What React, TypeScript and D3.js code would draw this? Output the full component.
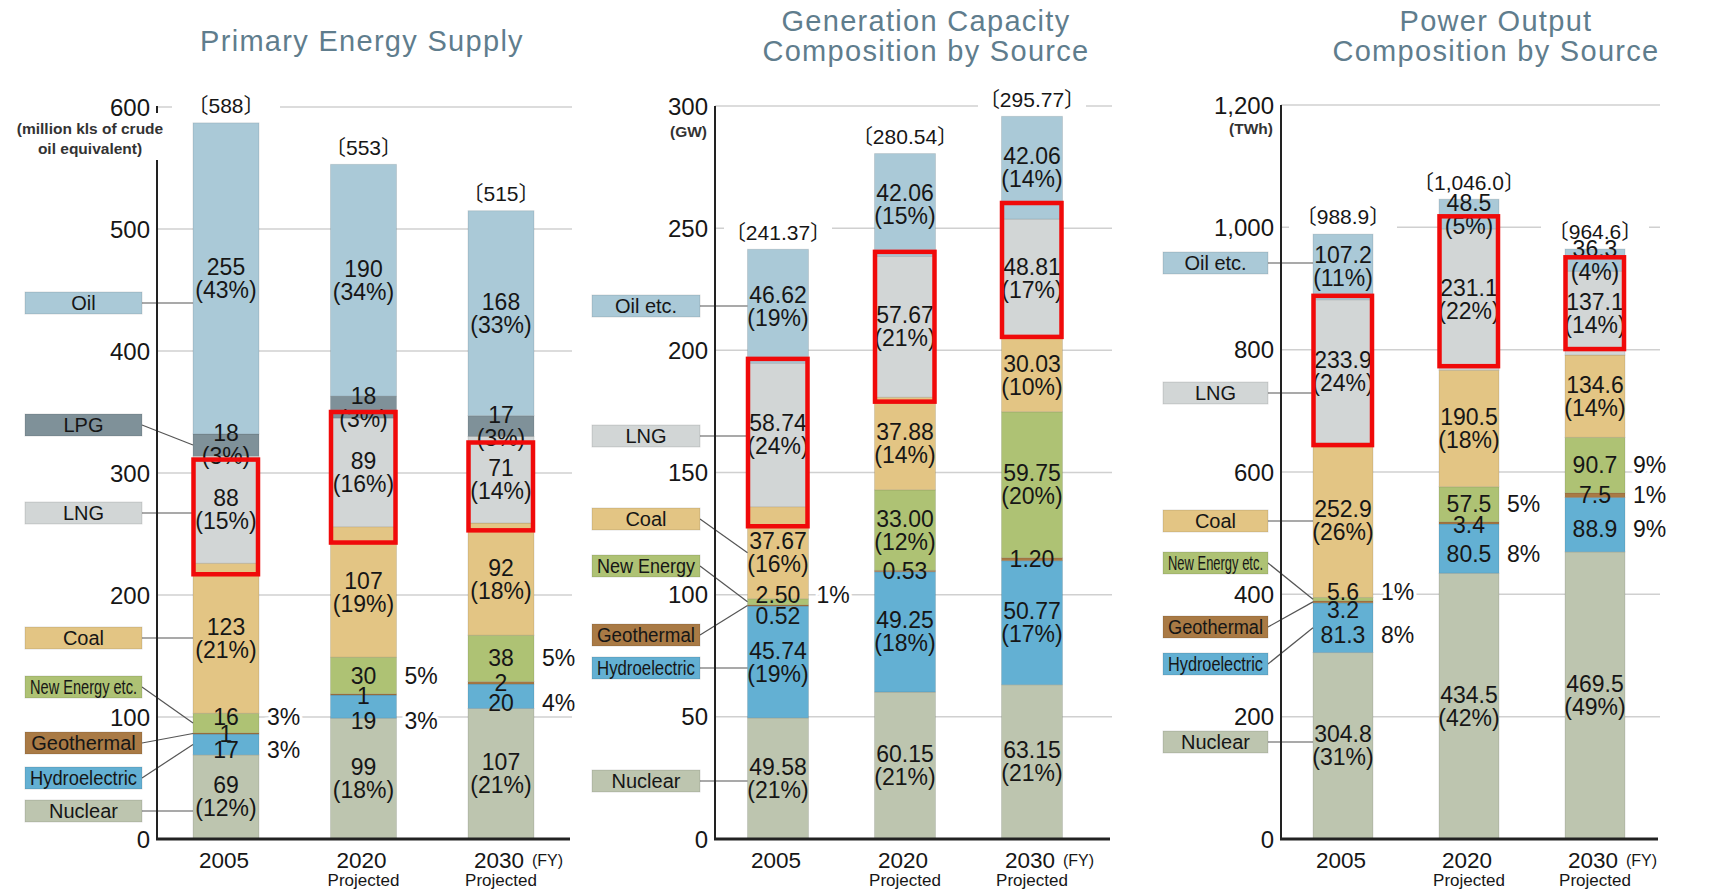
import * as d3 from "d3";

// ── Data ──────────────────────────────────────────────────────────────────────

const years = ["2005", "2020", "2030"];
const yearNotes = ["", "Projected", "Projected"];

// Primary Energy Supply (million kls of crude oil equivalent)
const supplyKeys = ["Nuclear", "Hydroelectric", "Geothermal", "New Energy", "Coal", "LNG", "LPG", "Oil"];
const supplyLegend = ["Nuclear", "Hydroelectric", "Geothermal", "New Energy etc.", "Coal", "LNG", "LPG", "Oil"];
const supply2005 = [69, 17, 1, 16, 123, 88, 18, 255];
const supply2020 = [99, 19, 1, 30, 107, 89, 18, 190];
const supply2030 = [107, 20, 2, 38, 92, 71, 17, 168];
const supplyPct2005 = [12, 3, null, 3, 21, 15, 3, 43];
const supplyPct2020 = [18, 3, null, 5, 19, 16, 3, 34];
const supplyPct2030 = [21, 4, null, 5, 18, 14, 3, 33];
const supplyModes = ["sss", "rrr", "vvv", "rrr", "sss", "sss", "sss", "sss"];
const supplyTotals = [588, 553, 515];
const supplyTicks = [0, 100, 200, 300, 400, 500, 600];
const supplyHighlight = [[217, 311], [243, 350], [253, 325]];

// Generation Capacity (GW)
const capacityKeys = ["Nuclear", "Hydroelectric", "Geothermal", "New Energy", "Coal", "LNG", "Oil"];
const capacityLegend = ["Nuclear", "Hydroelectric", "Geothermal", "New Energy", "Coal", "LNG", "Oil etc."];
const capacity2005 = [49.58, 45.74, 0.52, 2.5, 37.67, 58.74, 46.62];
const capacity2020 = [60.15, 49.25, 0.53, 33.0, 37.88, 57.67, 42.06];
const capacity2030 = [63.15, 50.77, 1.2, 59.75, 30.03, 48.81, 42.06];
const capacityPct2005 = [21, 19, null, 1, 16, 24, 19];
const capacityPct2020 = [21, 18, null, 12, 14, 21, 15];
const capacityPct2030 = [21, 17, null, 20, 10, 17, 14];
const capacityModes = ["sss", "sss", "vvv", "rss", "sss", "sss", "sss"];
const capacityTotals = [241.37, 280.54, 295.77];
const capacityTicks = [0, 50, 100, 150, 200, 250, 300];
const capacityHighlight = [[128, 196.5], [179, 240.3], [205.5, 260.3]];

// Power Output (TWh)
const outputKeys = ["Nuclear", "Hydroelectric", "Geothermal", "New Energy", "Coal", "LNG", "Oil"];
const outputLegend = ["Nuclear", "Hydroelectric", "Geothermal", "New Energy etc.", "Coal", "LNG", "Oil etc."];
const output2005 = [304.8, 81.3, 3.2, 5.6, 252.9, 233.9, 107.2];
const output2020 = [434.5, 80.5, 3.4, 57.5, 190.5, 231.1, 48.5];
const output2030 = [469.5, 88.9, 7.5, 90.7, 134.6, 137.1, 36.3];
const outputPct2005 = [31, 8, null, 1, 26, 24, 11];
const outputPct2020 = [42, 8, null, 5, 18, 22, 5];
const outputPct2030 = [49, 9, 1, 9, 14, 14, 4];
const outputModes = ["sss", "rrr", "vvr", "rrr", "sss", "sss", "sss"];
const outputTotals = [988.9, 1046.0, 964.6];
const outputTicks = [0, 200, 400, 600, 800, 1000, 1200];
const outputHighlight = [[644, 888], [773, 1018], [801, 951]];

// ── Styling ───────────────────────────────────────────────────────────────────

const FONT = '"Liberation Sans", Arial, Helvetica, sans-serif';
const BRACKET_FONT = '"Liberation Sans", "Noto Sans CJK JP", sans-serif';
const BASE_Y = 839;

const COLORS: Record<string, string> = {
  Nuclear: "#bdc5af",
  Hydroelectric: "#63b0d3",
  Geothermal: "#a97a45",
  "New Energy": "#aec274",
  Coal: "#e3c584",
  LNG: "#d2d6d6",
  LPG: "#7f9199",
  Oil: "#aac9d7",
};

interface Layout {
  axisX: number;
  axisTop?: number;
  yTop: number;
  firstCenter: number;
  step: number;
  bw: number;
  gridEnd: number;
  titleX: number;
  titleY: number[];
  legendX: [number, number];
  legendY: number[];
  unitX: number;
  unitY: number[];
  unitAnchor: "middle" | "end";
  nudge: Record<string, number>;
}

interface PanelSpec {
  title: string[];
  keys: string[];
  legend: string[];
  values: number[][];
  pcts: (number | null)[][];
  modes: string[];
  totals: number[];
  highlight: number[][];
  ticks: number[];
  fmtValue: (v: number) => string;
  fmtTotal: (v: number) => string;
  fmtTick: (v: number) => string;
  unit: string[];
  layout: Layout;
}

const panels: PanelSpec[] = [
  {
    title: ["Primary Energy Supply"],
    keys: supplyKeys,
    legend: supplyLegend,
    values: [supply2005, supply2020, supply2030],
    pcts: [supplyPct2005, supplyPct2020, supplyPct2030],
    modes: supplyModes,
    totals: supplyTotals,
    highlight: supplyHighlight,
    ticks: supplyTicks,
    fmtValue: d3.format("d"),
    fmtTotal: d3.format("d"),
    fmtTick: d3.format("d"),
    unit: ["(million kls of crude", "oil equivalent)"],
    layout: {
      axisX: 157, axisTop: 160, yTop: 107, firstCenter: 226, step: 137.5, bw: 66, gridEnd: 572,
      titleX: 362, titleY: [41],
      legendX: [25, 142], legendY: [811, 778, 743, 687, 638, 513, 425, 303],
      unitX: 90, unitY: [129, 149], unitAnchor: "middle",
      nudge: { "Hydroelectric|2005": 5, "Hydroelectric|2020": 14, "Hydroelectric|2030": 7, "New Energy|2005": -6, "Geothermal|2020": 2 },
    },
  },
  {
    title: ["Generation Capacity", "Composition by Source"],
    keys: capacityKeys,
    legend: capacityLegend,
    values: [capacity2005, capacity2020, capacity2030],
    pcts: [capacityPct2005, capacityPct2020, capacityPct2030],
    modes: capacityModes,
    totals: capacityTotals,
    highlight: capacityHighlight,
    ticks: capacityTicks,
    fmtValue: d3.format(".2f"),
    fmtTotal: d3.format(".2f"),
    fmtTick: d3.format("d"),
    unit: ["(GW)"],
    layout: {
      axisX: 715, yTop: 106, firstCenter: 778, step: 127, bw: 61, gridEnd: 1112,
      titleX: 926, titleY: [21, 51],
      legendX: [592, 700], legendY: [781, 668, 635, 566, 519, 436, 306],
      unitX: 707, unitY: [132], unitAnchor: "end",
      nudge: { "Geothermal|2005": 10, "New Energy|2005": -7 },
    },
  },
  {
    title: ["Power Output", "Composition by Source"],
    keys: outputKeys,
    legend: outputLegend,
    values: [output2005, output2020, output2030],
    pcts: [outputPct2005, outputPct2020, outputPct2030],
    modes: outputModes,
    totals: outputTotals,
    highlight: outputHighlight,
    ticks: outputTicks,
    fmtValue: d3.format(".1f"),
    fmtTotal: d3.format(",.1f"),
    fmtTick: d3.format(","),
    unit: ["(TWh)"],
    layout: {
      axisX: 1281, yTop: 105, firstCenter: 1343, step: 126, bw: 60, gridEnd: 1660,
      titleX: 1496, titleY: [21, 51],
      legendX: [1163, 1268], legendY: [742, 664, 627, 563, 521, 393, 263],
      unitX: 1273, unitY: [129], unitAnchor: "end",
      nudge: { "Geothermal|2005": 8, "New Energy|2005": -7, "Hydroelectric|2005": 7, "Hydroelectric|2020": 5, "Hydroelectric|2030": 4, "Geothermal|2020": 2 },
    },
  },
];

// text width for squeezing long legend names into their boxes
let measureCtx: CanvasRenderingContext2D | null = null;
function textWidth(s: string, size: number) {
  if (!measureCtx) measureCtx = document.createElement("canvas").getContext("2d");
  if (!measureCtx) return s.length * size * 0.55;
  measureCtx.font = `${size}px "Liberation Sans", Arial, sans-serif`;
  return measureCtx.measureText(s).width;
}

// ── Panel ─────────────────────────────────────────────────────────────────────

function Panel({ spec }: { spec: PanelSpec }) {
  const L = spec.layout;
  const yMax = spec.ticks[spec.ticks.length - 1];
  const y = d3.scaleLinear().domain([0, yMax]).range([BASE_Y, L.yTop]);

  const pi = 1 - L.bw / L.step;
  const po = (L.firstCenter - L.axisX - L.bw / 2) / L.step;
  const x = d3
    .scaleBand<string>()
    .domain(years)
    .range([L.axisX, L.axisX + L.step * (years.length - pi + 2 * po)])
    .paddingInner(pi)
    .paddingOuter(po);
  const bw = x.bandwidth();

  const rows = years.map((yr, i) => {
    const o: Record<string, number | string> = { year: yr };
    spec.keys.forEach((k, j) => (o[k] = spec.values[i][j]));
    return o;
  });
  const series = d3.stack<Record<string, any>>().keys(spec.keys)(rows);

  const labelFont = { fontFamily: FONT, fontSize: 23, fill: "#161616" };

  return (
    <g>
      {/* gridlines */}
      {spec.ticks.filter((t) => t > 0).map((t) => (
        <line key={t} x1={L.axisX} x2={L.gridEnd} y1={y(t)} y2={y(t)} stroke="#d0d0d0" strokeWidth={1.5} />
      ))}

      {/* bars */}
      {series.map((s, j) =>
        s.map((p, i) => (
          <rect
            key={`${j}-${i}`}
            x={x(years[i])}
            y={y(p[1])}
            width={bw}
            height={Math.max(0, y(p[0]) - y(p[1]))}
            fill={COLORS[spec.keys[j]]}
            stroke="rgba(0,0,0,0.1)"
            strokeWidth={1}
          />
        ))
      )}

      {/* totals */}
      {years.map((yr, i) => {
        const cx = (x(yr) ?? 0) + bw / 2;
        const top = y(d3.sum(spec.values[i]));
        return (
          <g key={yr}>
            <rect x={cx - 54} y={top - 31} width={108} height={27} fill="#fff" />
            <text x={cx} y={top - 17} dy="0.35em" textAnchor="middle" fontFamily={BRACKET_FONT} fontSize={21} fill="#161616">
              {"〔" + spec.fmtTotal(spec.totals[i]) + "〕"}
            </text>
          </g>
        );
      })}

      {/* segment labels */}
      {series.map((s, j) =>
        s.map((p, i) => {
          const key = spec.keys[j];
          const yr = years[i];
          const mode = spec.modes[j][i];
          const x0 = x(yr) ?? 0;
          const cx = x0 + bw / 2;
          const cy = (y(p[0]) + y(p[1])) / 2 + (L.nudge[`${key}|${yr}`] ?? 0);
          const val = spec.fmtValue(spec.values[i][j]);
          const pct = spec.pcts[i][j];
          if (mode === "s") {
            return (
              <g key={`l${j}-${i}`}>
                <text x={cx} y={cy - 11.5} dy="0.35em" textAnchor="middle" {...labelFont}>{val}</text>
                <text x={cx} y={cy + 11.5} dy="0.35em" textAnchor="middle" {...labelFont}>{`(${pct}%)`}</text>
              </g>
            );
          }
          return (
            <g key={`l${j}-${i}`}>
              <text x={cx} y={cy} dy="0.35em" textAnchor="middle" {...labelFont}>{val}</text>
              {mode === "r" && (
                <text
                  x={x0 + bw + 8}
                  y={cy}
                  dy="0.35em"
                  {...labelFont}
                  stroke="#fff"
                  strokeWidth={6}
                  paintOrder="stroke"
                >{`${pct}%`}</text>
              )}
            </g>
          );
        })
      )}

      {/* legend boxes with leader lines */}
      {spec.legend.map((name, j) => {
        const ly = L.legendY[j];
        const seg = series[j][0];
        const top = y(seg[1]);
        const bot = y(seg[0]);
        const ty = ly >= top + 20 && ly <= bot - 20 ? ly : (top + bot) / 2;
        const boxW = L.legendX[1] - L.legendX[0];
        const natural = textWidth(name, 20);
        const squeeze = natural > boxW - 10;
        return (
          <g key={name}>
            <line x1={L.legendX[1]} y1={ly} x2={x(years[0])} y2={ty} stroke="#555" strokeWidth={1.2} />
            <rect
              x={L.legendX[0]}
              y={ly - 11}
              width={boxW}
              height={22}
              fill={COLORS[spec.keys[j]]}
              stroke="rgba(0,0,0,0.12)"
              strokeWidth={1}
            />
            <text
              x={(L.legendX[0] + L.legendX[1]) / 2}
              y={ly}
              dy="0.36em"
              textAnchor="middle"
              fontFamily={FONT}
              fontSize={20}
              fill="#161616"
              textLength={squeeze ? boxW - 10 : undefined}
              lengthAdjust={squeeze ? "spacingAndGlyphs" : undefined}
            >
              {name}
            </text>
          </g>
        );
      })}

      {/* LNG highlight boxes */}
      {years.map((yr, i) => {
        const [lo, hi] = spec.highlight[i];
        return (
          <rect
            key={`h${yr}`}
            x={(x(yr) ?? 0) + 0.5}
            y={y(hi)}
            width={bw - 1.5}
            height={y(lo) - y(hi)}
            fill="none"
            stroke="#f00a0a"
            strokeWidth={4.5}
          />
        );
      })}

      {/* axes */}
      <line x1={L.axisX} x2={L.axisX} y1={L.axisTop ?? y(yMax)} y2={BASE_Y} stroke="#222" strokeWidth={2} />
      {L.axisTop !== undefined && (
        <line x1={L.axisX} x2={L.axisX} y1={y(yMax) - 1} y2={y(yMax) + 6} stroke="#222" strokeWidth={2} />
      )}
      <line x1={L.axisX - 1} x2={L.gridEnd - 2} y1={BASE_Y} y2={BASE_Y} stroke="#222" strokeWidth={3} />

      {spec.ticks.map((t) => (
        <text key={t} x={L.axisX - 7} y={y(t)} dy="0.36em" textAnchor="end" fontFamily={FONT} fontSize={24} fill="#161616">
          {spec.fmtTick(t)}
        </text>
      ))}

      {spec.unit.map((u, k) => (
        <text
          key={u}
          x={L.unitX}
          y={L.unitY[k]}
          dy="0.35em"
          textAnchor={L.unitAnchor}
          fontFamily={FONT}
          fontSize={15.5}
          fontWeight="bold"
          fill="#333"
          stroke="#fff"
          strokeWidth={3}
          paintOrder="stroke"
        >
          {u}
        </text>
      ))}

      {/* x labels */}
      {years.map((yr, i) => {
        const cx = (x(yr) ?? 0) + bw / 2;
        return (
          <g key={`x${yr}`}>
            <text x={cx - 2} y={860} dy="0.36em" textAnchor="middle" fontFamily={FONT} fontSize={22.5} fill="#161616">
              {yr}
            </text>
            {yearNotes[i] && (
              <text x={cx} y={880} dy="0.36em" textAnchor="middle" fontFamily={FONT} fontSize={17} fill="#161616">
                {yearNotes[i]}
              </text>
            )}
            {i === years.length - 1 && (
              <text x={cx + 31} y={860} dy="0.36em" fontFamily={FONT} fontSize={16} fill="#161616">
                (FY)
              </text>
            )}
          </g>
        );
      })}

      {/* title */}
      {spec.title.map((t, k) => (
        <text
          key={t}
          x={L.titleX}
          y={L.titleY[k]}
          dy="0.35em"
          textAnchor="middle"
          fontFamily={FONT}
          fontSize={29}
          letterSpacing={1.3}
          fill="#5f7d8d"
        >
          {t}
        </text>
      ))}
    </g>
  );
}

export default function App() {
  return (
    <svg
      width={1722}
      height={889}
      viewBox="0 0 1722 889"
      style={{ position: "absolute", left: 0, top: 0, background: "#fff" }}
    >
      <rect width={1722} height={889} fill="#fff" />
      {panels.map((p) => (
        <Panel key={p.title.join(" ")} spec={p} />
      ))}
    </svg>
  );
}
